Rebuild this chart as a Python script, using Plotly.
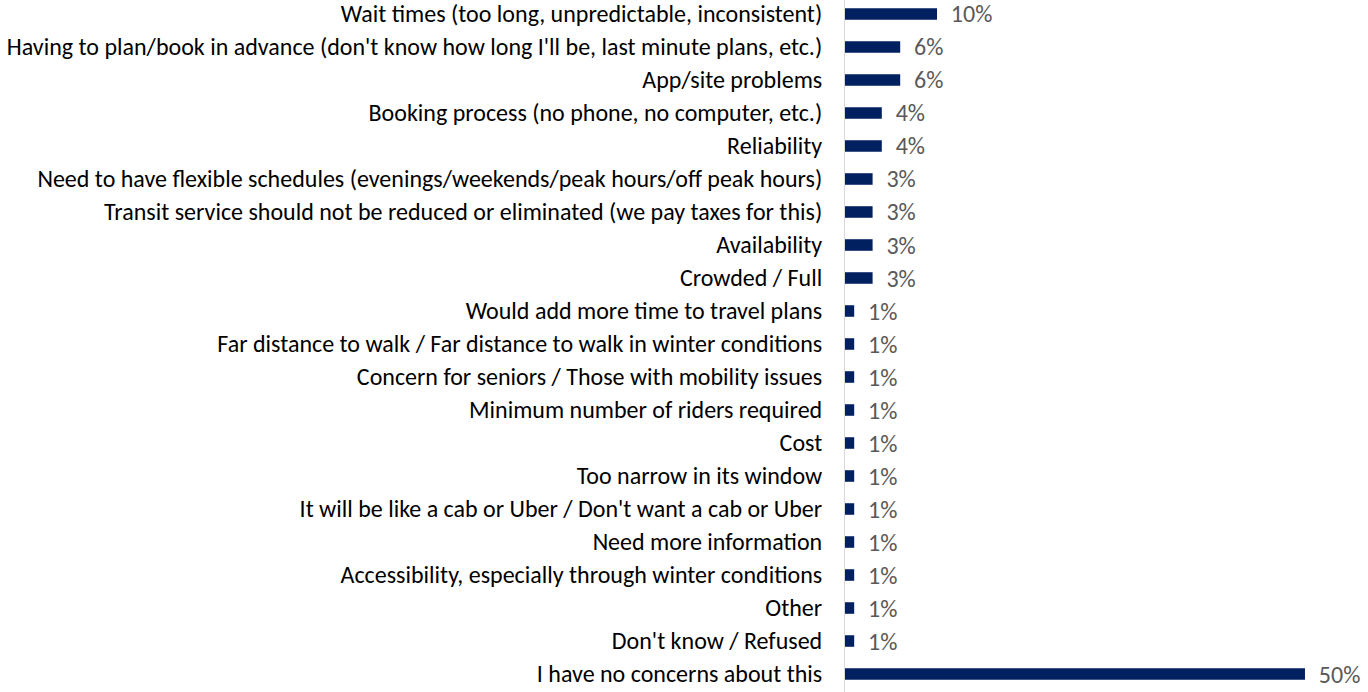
import plotly.graph_objects as go

# Concerns about on-demand transit, share of respondents (%)
categories = [
    "Wait times (too long, unpredictable, inconsistent)",
    "Having to plan/book in advance (don't know how long I'll be, last minute plans, etc.)",
    "App/site problems",
    "Booking process (no phone, no computer, etc.)",
    "Reliability",
    "Need to have flexible schedules (evenings/weekends/peak hours/off peak hours)",
    "Transit service should not be reduced or eliminated (we pay taxes for this)",
    "Availability",
    "Crowded / Full",
    "Would add more time to travel plans",
    "Far distance to walk / Far distance to walk in winter conditions",
    "Concern for seniors / Those with mobility issues",
    "Minimum number of riders required",
    "Cost",
    "Too narrow in its window",
    "It will be like a cab or Uber / Don't want a cab or Uber",
    "Need more information",
    "Accessibility, especially through winter conditions",
    "Other",
    "Don't know / Refused",
    "I have no concerns about this",
]
values = [10, 6, 6, 4, 4, 3, 3, 3, 3, 1, 1, 1, 1, 1, 1, 1, 1, 1, 1, 1, 50]

FONT = "Calibri, Carlito, sans-serif"

fig = go.Figure(
    go.Bar(
        x=values,
        y=list(range(len(categories))),
        orientation="h",
        marker=dict(color="#002060", line=dict(width=0)),
        width=0.35,
        text=[f"\u00a0\u00a0{v}%" for v in values],
        textposition="outside",
        constraintext="none",
        textfont=dict(family=FONT, size=24, color="#595959"),
        cliponaxis=False,
        hoverinfo="skip",
    )
)

fig.update_layout(
    width=1368,
    height=692,
    margin=dict(l=845, r=0, t=0, b=0),
    paper_bgcolor="white",
    plot_bgcolor="white",
    showlegend=False,
    xaxis=dict(
        range=[0, 56.85],
        visible=False,
        fixedrange=True,
    ),
    yaxis=dict(
        tickmode="array",
        tickvals=list(range(len(categories))),
        ticktext=categories,
        range=[20.545, -0.424],
        showline=True,
        linecolor="#d9d9d9",
        linewidth=1,
        showgrid=False,
        zeroline=False,
        ticks="",
        ticklabelstandoff=17,
        ticklabeloverflow="allow",
        tickfont=dict(family=FONT, size=24, color="#000000"),
        fixedrange=True,
    ),
)

fig.write_html("out.html")
